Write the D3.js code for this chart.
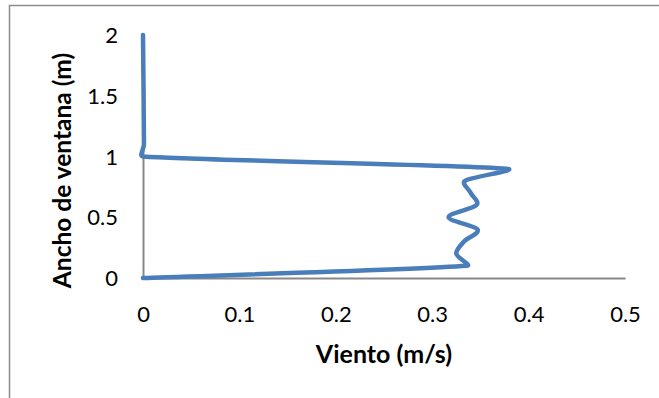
<!DOCTYPE html>
<html>
<head>
<meta charset="utf-8">
<script src="https://cdn.jsdelivr.net/npm/d3@7"></script>
<style>
  html, body { margin: 0; padding: 0; background: #fff; }
  svg { display: block; }
  text { font-family: Lato, "Open Sans", sans-serif; fill: #000; }
</style>
</head>
<body>
<svg id="chart" width="659" height="398"></svg>
<script>
// Wind speed profile across the window opening
const heights = [0, 0.1, 0.2, 0.3, 0.4, 0.5, 0.6, 0.7, 0.8, 0.9, 1.0, 1.1, 2.0];
const wind    = [0, 0.336, 0.325, 0.333, 0.347, 0.317, 0.346, 0.340, 0.334, 0.377, 0, 0.001, 0];
const xTicks = [0, 0.1, 0.2, 0.3, 0.4, 0.5];
const yTicks = [0, 0.5, 1, 1.5, 2];
const xTitle = "Viento (m/s)";
const yTitle = "Ancho de ventana (m)";

const svg = d3.select("#chart");
const W = 659, H = 398;

// chart frame (only its left and top edges fall inside the view)
svg.append("rect")
  .attr("x", 9.5).attr("y", 5.5)
  .attr("width", W + 20).attr("height", H + 20)
  .attr("fill", "none").attr("stroke", "#8c8c8c").attr("stroke-width", 1.5);

const x = d3.scaleLinear().domain([0, 0.5]).range([143, 625]);
const y = d3.scaleLinear().domain([0, 2]).range([278, 35]);

// axes
const xAxis = d3.axisBottom(x).tickValues(xTicks).tickSize(0).tickPadding(0)
  .tickFormat(d => d === 0 ? "0" : d3.format(".1f")(d));
const yAxis = d3.axisLeft(y).tickValues(yTicks).tickSize(0).tickPadding(0)
  .tickFormat(d => d3.format("")(d));

const gx = svg.append("g").attr("transform", `translate(0,${y(0)})`).call(xAxis);
gx.select(".domain").attr("stroke", "#888").attr("stroke-width", 2);
gx.selectAll(".tick text")
  .attr("y", 0).attr("dy", 0)
  .attr("transform", "translate(0,44)")
  .style("font-size", "22px").attr("fill", "#000");

const gy = svg.append("g").attr("transform", `translate(${x(0)},0)`).call(yAxis);
gy.select(".domain").attr("stroke", "#888").attr("stroke-width", 2);
gy.selectAll(".tick text")
  .attr("x", -25).attr("dy", "0.35em")
  .style("font-size", "22px").attr("fill", "#000");

// axis titles
svg.append("text")
  .attr("x", (x(0) + x(0.5)) / 2).attr("y", 363)
  .attr("text-anchor", "middle")
  .style("font-size", "25px").style("font-weight", "bold")
  .text(xTitle);

svg.append("text")
  .attr("transform", `translate(71,${(y(0) + y(2)) / 2 + 14}) rotate(-90)`)
  .attr("text-anchor", "middle")
  .style("font-size", "24.5px").style("font-weight", "bold")
  .text(yTitle);

// Smoothed curve: cubic Bezier segments with Catmull-Rom style tangents
// (1/6 of the neighbour chord), arms limited relative to each segment's length.
function smoothCurve(context) {
  return {
    lineStart() { this._p = []; },
    lineEnd() {
      const p = this._p, n = p.length, k = 0.35;
      if (!n) return;
      context.moveTo(p[0][0], p[0][1]);
      const clamp = (v, max) => {
        const l = Math.hypot(v[0], v[1]);
        return l > max && l > 0 ? [v[0] * max / l, v[1] * max / l] : v;
      };
      for (let i = 0; i < n - 1; i++) {
        const p0 = p[i - 1] || p[i], p1 = p[i], p2 = p[i + 1], p3 = p[i + 2] || p[i + 1];
        const seg = Math.hypot(p2[0] - p1[0], p2[1] - p1[1]);
        const a = clamp([(p2[0] - p0[0]) / 6, (p2[1] - p0[1]) / 6], k * seg);
        const b = clamp([(p3[0] - p1[0]) / 6, (p3[1] - p1[1]) / 6], k * seg);
        context.bezierCurveTo(p1[0] + a[0], p1[1] + a[1], p2[0] - b[0], p2[1] - b[1], p2[0], p2[1]);
      }
    },
    point(px, py) { this._p.push([px, py]); },
    areaStart() {}, areaEnd() {}
  };
}

// profile line
const pts = heights.map((h, i) => [wind[i], h]);
const line = d3.line()
  .x(d => x(d[0]))
  .y(d => y(d[1]))
  .curve(smoothCurve);

svg.append("path")
  .datum(pts)
  .attr("d", line)
  .attr("fill", "none")
  .attr("stroke", "#4a7ebb")
  .attr("stroke-width", 4.5)
  .attr("stroke-linejoin", "round")
  .attr("stroke-linecap", "round");
</script>
</body>
</html>
